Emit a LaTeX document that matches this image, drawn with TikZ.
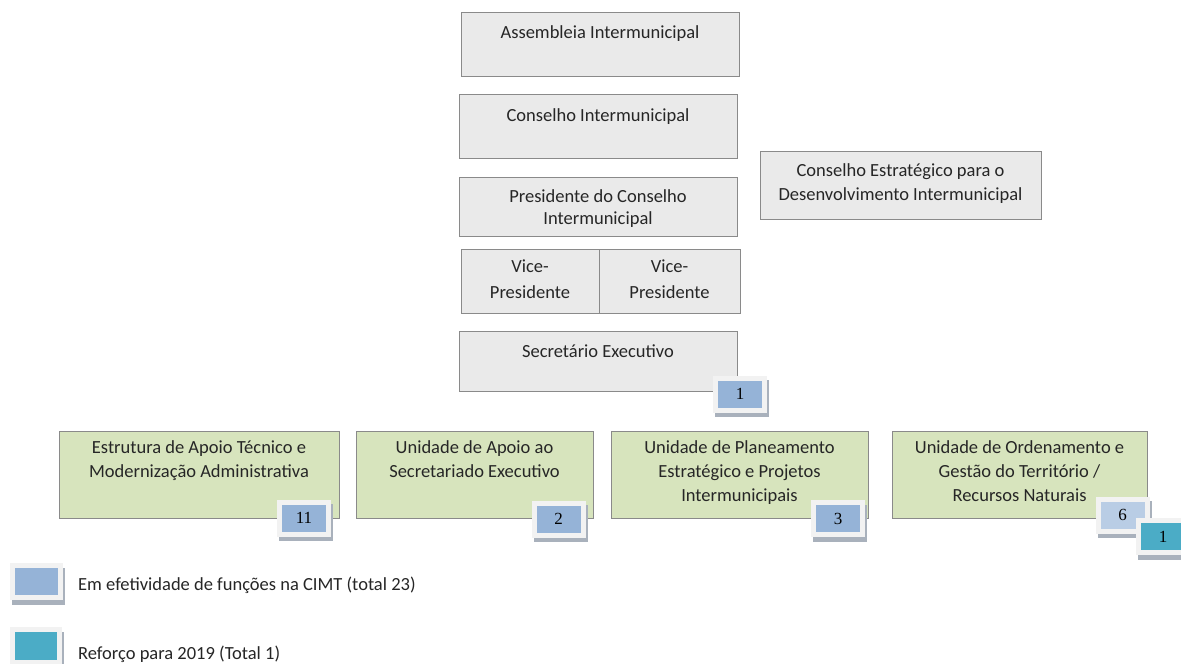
\documentclass[tikz,border=0pt]{standalone}
\usepackage{fontspec}
\setmainfont{Carlito}
\newfontfamily\badgefont{Liberation Serif}
\definecolor{grayfill}{HTML}{EAEAEA}
\definecolor{boxline}{HTML}{8A8A8A}
\definecolor{greenfill}{HTML}{D7E4BD}
\definecolor{badgeblue}{HTML}{95B3D7}
\definecolor{badgelight}{HTML}{B9CDE5}
\definecolor{badgeteal}{HTML}{4BACC6}
\definecolor{framecol}{HTML}{F2F2F2}
\definecolor{shadowcol}{HTML}{A9B1BC}
\definecolor{txtcol}{HTML}{262626}
\begin{document}
\begin{tikzpicture}[x=1pt,y=-1pt,
  box/.style={draw=boxline, line width=1pt, inner sep=0pt},
  graybox/.style={box, fill=grayfill},
  greenbox/.style={box, fill=greenfill, minimum height=87pt},
  txt/.style={anchor=north, align=center, inner sep=0pt, text=txtcol, font=\fontsize{18.5}{24}\selectfont},
  legtxt/.style={anchor=base west, inner sep=0pt, text=txtcol, font=\fontsize{18.5}{24}\selectfont},
  badge/.style={fill=#1, draw=framecol, line width=5pt, minimum width=49pt, minimum height=32pt, inner sep=0pt,
    font={\badgefont\fontsize{17}{17}\selectfont},
    preaction={draw=shadowcol, fill=shadowcol, line width=5pt, transform canvas={xshift=2pt,yshift=-4.5pt}}},
]
\useasboundingbox[fill=white] (0,0) rectangle (1181,664);

% upper grey boxes
\node[graybox, minimum width=278pt, minimum height=64pt] (asm) at (600,44) {};
\node[txt] (tasm) at (600,25) {Assembleia Intermunicipal};

\node[graybox, minimum width=278pt, minimum height=64pt] (cons) at (598,126) {};
\node[txt] (tcons) at (598,108) {Conselho Intermunicipal};

\node[graybox, minimum width=278pt, minimum height=59pt] (pres) at (598,206.5) {};
\node[txt, font=\fontsize{18.5}{22.5}\selectfont] (tpres) at (598,189) {Presidente do Conselho\\Intermunicipal};

\node[graybox, minimum width=138pt, minimum height=64pt] (vp1) at (530,281) {};
\node[graybox, minimum width=141pt, minimum height=64pt] (vp2) at (669.5,281) {};
\node[txt, font=\fontsize{18.5}{26}\selectfont] (tvp1) at (530,260) {Vice-\\Presidente};
\node[txt, font=\fontsize{18.5}{26}\selectfont] (tvp2) at (669.5,260) {Vice-\\Presidente};

\node[graybox, minimum width=278pt, minimum height=60pt] (sec) at (598,361) {};
\node[txt] (tsec) at (598,345) {Secretário Executivo};

\node[graybox, minimum width=281pt, minimum height=68pt] (cest) at (900.5,185) {};
\node[txt] (tcest) at (900.5,163) {Conselho Estratégico para o\\Desenvolvimento Intermunicipal};

% green units
\node[greenbox, minimum width=280pt] (ga) at (199,474.5) {};
\node[txt] (tga) at (199,440) {Estrutura de Apoio Técnico e\\Modernização Administrativa};

\node[greenbox, minimum width=237pt] (gb) at (474.5,474.5) {};
\node[txt] (tgb) at (474.5,440) {Unidade de Apoio ao\\Secretariado Executivo};

\node[greenbox, minimum width=257pt] (gc) at (739.5,474.5) {};
\node[txt] (tgc) at (739.5,440) {Unidade de Planeamento\\Estratégico e Projetos\\Intermunicipais};

\node[greenbox, minimum width=255pt] (gd) at (1019.5,474.5) {};
\node[txt] (tgd) at (1019.5,440) {Unidade de Ordenamento e\\Gestão do Território /\\Recursos Naturais};

% badges
\node[badge=badgeblue] (b1) at (740,394) {1};
\node[badge=badgeblue] (b11) at (304,518) {11};
\node[badge=badgeblue] (b2) at (558.5,519) {2};
\node[badge=badgeblue] (b3) at (838,518.5) {3};
\node[badge=badgelight] (b6) at (1122.5,515) {6};
\node[badge=badgeteal] (b1t) at (1163,536.5) {1};

% legend
\node[badge=badgeblue, minimum width=48pt, minimum height=32pt] (lg1) at (36.5,581.5) {};
\node[legtxt] (tlg1) at (78,590) {Em efetividade de funções na CIMT (total 23)};
\node[badge=badgeteal, minimum width=47pt, minimum height=33pt] (lg2) at (36,646) {};
\node[legtxt] (tlg2) at (78,659) {Reforço para 2019 (Total 1)};
\end{tikzpicture}
\end{document}
